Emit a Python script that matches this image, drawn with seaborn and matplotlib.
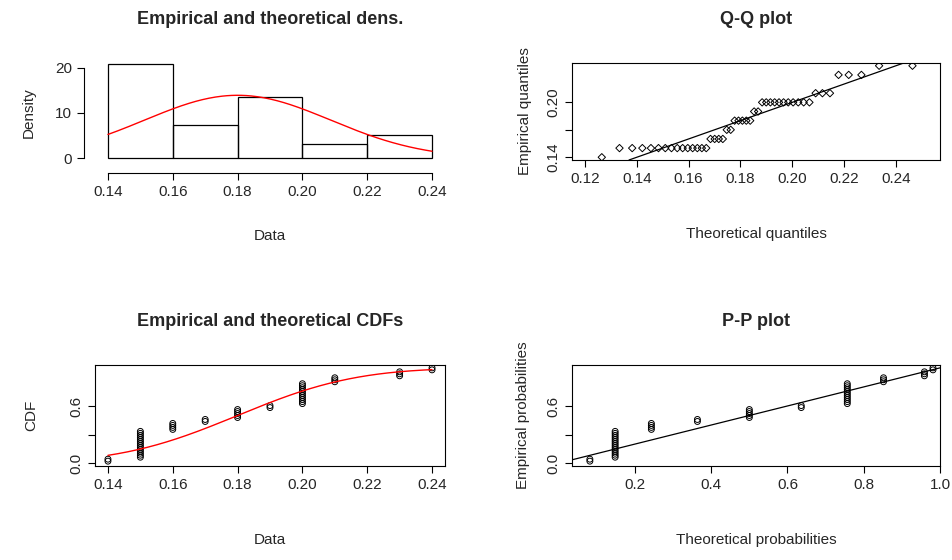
import numpy as np
import matplotlib
matplotlib.use("Agg")
import matplotlib.pyplot as plt
import seaborn as sns
from math import erf, sqrt

# observed values and how many times each occurs
values = [0.14, 0.15, 0.16, 0.17, 0.18, 0.19, 0.20, 0.21, 0.23, 0.24]
counts = [2, 14, 4, 2, 5, 2, 11, 3, 3, 2]
# right-closed bins like R's hist()
bin_edges = [0.13999, 0.16001, 0.18001, 0.20001, 0.22001, 0.24001]

data = np.sort(np.repeat(values, counts))
n = len(data)
mu = data.mean()
sd = data.std()  # MLE


def pnorm(x):
    return 0.5 * (1 + np.vectorize(erf)((np.asarray(x) - mu) / (sd * sqrt(2))))


def qnorm(p):
    p = np.asarray(p)
    lo = np.full(p.shape, mu - 10 * sd)
    hi = np.full(p.shape, mu + 10 * sd)
    for _ in range(80):
        mid = (lo + hi) / 2
        below = pnorm(mid) < p
        lo = np.where(below, mid, lo)
        hi = np.where(below, hi, mid)
    return (lo + hi) / 2


ppts = (np.arange(1, n + 1) - 0.5) / n

sns.set_style("white")
plt.rcParams["font.family"] = ["Liberation Sans", "DejaVu Sans"]
plt.rcParams["font.size"] = 11

fig = plt.figure(figsize=(9.52, 5.6), dpi=100)
W, H = 952, 560


def box(x0, y0, x1, y1):
    return fig.add_axes([x0 / W, 1 - y1 / H, (x1 - x0) / W, (y1 - y0) / H])


def style(ax, title, xlabel, ylabel, xpad=30, ypad=20):
    ax.set_title(title, fontweight="bold", fontsize=13, pad=28)
    ax.set_xlabel(xlabel, labelpad=xpad)
    ax.set_ylabel(ylabel, labelpad=ypad)
    ax.tick_params(direction="out", length=5, width=0.8, color="black",
                   bottom=True, left=True, labelsize=11)
    for lab in ax.get_yticklabels():
        lab.set_rotation(90)
        lab.set_va("center")
    for s in ax.spines.values():
        s.set_color("black")
        s.set_linewidth(0.8)


xticks = [0.14, 0.16, 0.18, 0.20, 0.22, 0.24]
xs = np.linspace(0.14, 0.24, 200)

# density
ax = box(95, 63, 445, 162)
sns.histplot(x=data, bins=bin_edges, stat="density", fill=False,
             color="black", linewidth=0.9, ax=ax)
ax.plot(xs, np.exp(-0.5 * ((xs - mu) / sd) ** 2) / (sd * sqrt(2 * np.pi)),
        color="red", lw=1)
ax.set_xlim(0.136, 0.244)
ax.set_ylim(-0.8, 21)
ax.set_xticks(xticks)
ax.set_xticklabels([f"{v:.2f}" for v in xticks])
ax.set_yticks([0, 10, 20])
style(ax, "Empirical and theoretical dens.", "Data", "Density",
      xpad=22, ypad=14)
sns.despine(ax=ax, offset=8, trim=True)

# Q-Q
ax = box(572, 63, 940, 160)
tq = qnorm(ppts)
sns.scatterplot(x=tq, y=data, marker="D", s=14, facecolor="none",
                edgecolor="black", linewidth=0.7, ax=ax)
ax.axline((0.14, 0.14), slope=1, color="black", lw=0.9)
ax.set_xlim(0.115, 0.257)
ax.set_ylim(0.137, 0.243)
qt = np.arange(0.12, 0.25, 0.02)
ax.set_xticks(qt)
ax.set_xticklabels([f"{v:.2f}" for v in qt])
ax.set_yticks([0.14, 0.17, 0.20])
ax.set_yticklabels(["0.14", "", "0.20"])
style(ax, "Q-Q plot", "Theoretical quantiles", "Empirical quantiles",
      ypad=10)

# CDF
ax = box(95, 365, 445, 466)
ecdf = np.arange(1, n + 1) / n
sns.scatterplot(x=data, y=ecdf, marker="o", s=18, facecolor="none",
                edgecolor="black", linewidth=0.7, ax=ax)
ax.plot(xs, pnorm(xs), color="red", lw=1)
ax.set_xlim(0.136, 0.244)
ax.set_ylim(-0.03, 1.03)
ax.set_xticks(xticks)
ax.set_xticklabels([f"{v:.2f}" for v in xticks])
ax.set_yticks([0.0, 0.3, 0.6])
ax.set_yticklabels(["0.0", "", "0.6"])
style(ax, "Empirical and theoretical CDFs", "Data", "CDF", ypad=22)

# P-P
ax = box(572, 365, 940, 466)
sns.scatterplot(x=pnorm(data), y=ecdf, marker="o", s=18, facecolor="none",
                edgecolor="black", linewidth=0.7, ax=ax)
ax.axline((0, 0), slope=1, color="black", lw=0.9)
ax.set_xlim(0.035, 1.0)
ax.set_ylim(-0.03, 1.03)
ax.set_xticks([0.2, 0.4, 0.6, 0.8, 1.0])
ax.set_yticks([0.0, 0.3, 0.6])
ax.set_yticklabels(["0.0", "", "0.6"])
style(ax, "P-P plot", "Theoretical probabilities", "Empirical probabilities",
      ypad=12)

fig.savefig("out.png", dpi=100)
